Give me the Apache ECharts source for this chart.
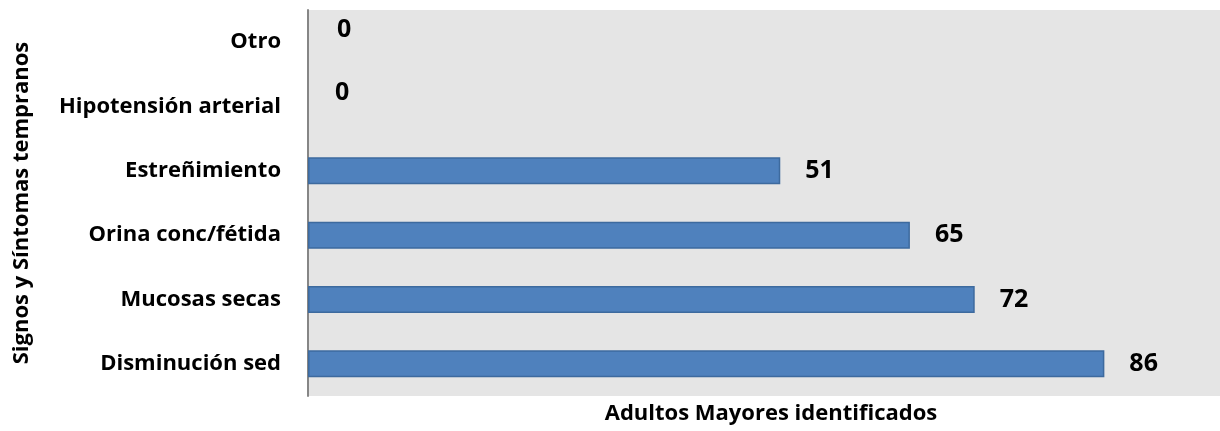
<!DOCTYPE html>
<html>
<head>
<meta charset="utf-8">
<script src="https://cdn.jsdelivr.net/npm/echarts@6/dist/echarts.min.js"></script>
<style>
  html, body { margin: 0; padding: 0; background: #ffffff; }
  #chart { width: 1220px; height: 431px; }
</style>
</head>
<body>
<div id="chart"></div>
<script>
// Early signs and symptoms, bottom to top
const categories = ['Disminución sed', 'Mucosas secas', 'Orina conc/fétida', 'Estreñimiento', 'Hipotensión arterial', 'Otro'];
const counts = [86, 72, 65, 51, 0, 0];
const xAxisTitle = 'Adultos Mayores identificados';
const yAxisTitle = 'Signos y Síntomas tempranos';

const FONT = '"Open Sans", Lato, sans-serif';

// Zero-length bars: no outline, value label lifted slightly above the row centre
const zeroLabelOffsets = { 4: [2, -14], 5: [4, -12] };
const barData = counts.map((v, i) =>
  v === 0
    ? { value: v, itemStyle: { borderWidth: 0 }, label: { offset: zeroLabelOffsets[i] || [0, 0] } }
    : v
);

const chart = echarts.init(document.getElementById('chart'), null, { renderer: 'canvas' });

chart.setOption({
  animation: false,
  backgroundColor: '#ffffff',
  grid: {
    left: 308, right: -14, top: 10, bottom: 35,
    show: true, backgroundColor: '#e5e5e5', borderWidth: 0,
    containLabel: false, outerBoundsMode: 'none'
  },
  xAxis: {
    type: 'value', min: 0, max: 100,
    axisLine: { show: false }, axisTick: { show: false },
    axisLabel: { show: false }, splitLine: { show: false },
    name: xAxisTitle, nameLocation: 'middle', nameGap: 7,
    nameTextStyle: { fontFamily: FONT, fontWeight: 'bold', fontSize: 22, color: '#000', verticalAlign: 'top' }
  },
  yAxis: {
    type: 'category', data: categories,
    axisLine: { show: true, lineStyle: { color: '#868686', width: 2 } },
    axisTick: { show: false },
    axisLabel: { fontFamily: FONT, fontWeight: 'bold', fontSize: 22, color: '#000', margin: 27 },
    name: yAxisTitle, nameLocation: 'middle', nameGap: 275, nameRotate: 90,
    nameTextStyle: { fontFamily: FONT, fontWeight: 'bold', fontSize: 22, color: '#000' }
  },
  series: [{
    type: 'bar', data: barData, barWidth: 27,
    itemStyle: { color: '#4f81bd', borderColor: '#3d6a9e', borderWidth: 1.5 },
    label: {
      show: true, position: 'right', distance: 25,
      fontFamily: FONT, fontWeight: 'bold', fontSize: 25, color: '#000'
    }
  }]
});
</script>
</body>
</html>
